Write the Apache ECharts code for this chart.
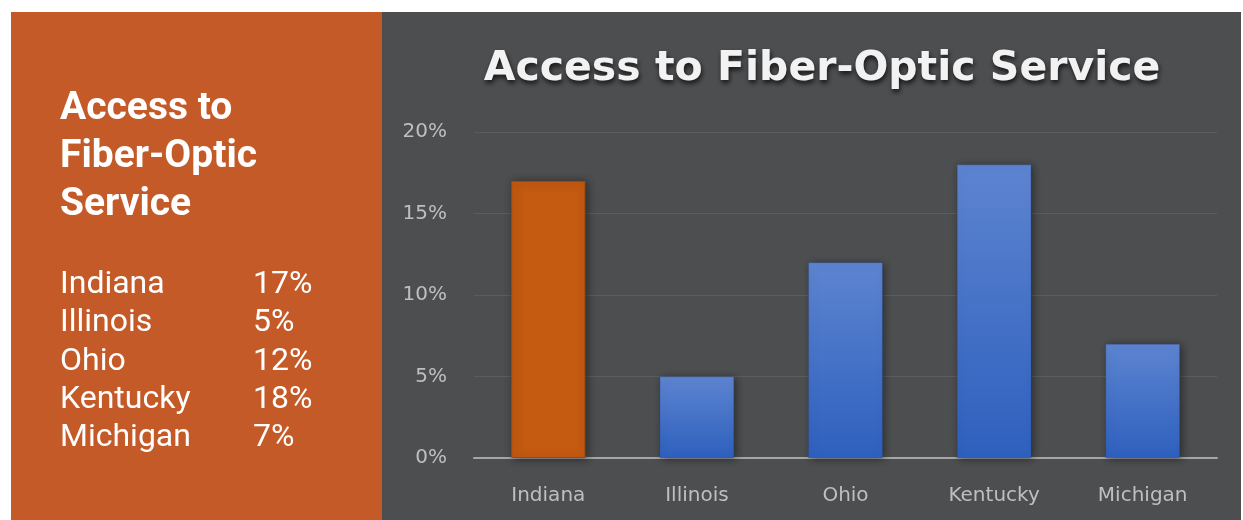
<!DOCTYPE html>
<html>
<head>
<meta charset="utf-8">
<script src="https://cdn.jsdelivr.net/npm/echarts@6/dist/echarts.min.js"></script>
<style>
html,body{margin:0;padding:0;background:#fff;}
#chart{width:1243px;height:520px;}
</style>
</head>
<body>
<div id="chart"></div>
<script>
const categories = ['Indiana', 'Illinois', 'Ohio', 'Kentucky', 'Michigan'];
const values = [17, 5, 12, 18, 7];
const yTicks = [0, 5, 10, 15, 20];
const titleText = 'Access to Fiber-Optic Service';
const sideHeading = ['Access to', 'Fiber-Optic', 'Service'];
const highlighted = 'Indiana';

const chart = echarts.init(document.getElementById('chart'), null, {renderer: 'canvas'});

const blueGrad = new echarts.graphic.LinearGradient(0, 0, 0, 1, [
  {offset: 0, color: '#5d84d0'},
  {offset: 1, color: '#2e60be'}
]);

const barData = categories.map((c, i) => ({
  value: values[i],
  itemStyle: c === highlighted
    ? {color: '#c55a11', borderColor: '#9e480f', borderWidth: 1}
    : {color: blueGrad, borderColor: 'rgba(40,70,140,0.6)', borderWidth: 0.5}
}));

const graphics = [
  {type: 'rect', z: -10, silent: true, shape: {x: 11, y: 12, width: 371, height: 508}, style: {fill: '#c45a27'}},
  {type: 'rect', z: -10, silent: true, shape: {x: 382, y: 12, width: 859, height: 508}, style: {fill: '#4d4e50'}}
];
sideHeading.forEach((line, i) => {
  graphics.push({type: 'text', x: 60, y: 109 + i * 48, style: {
    text: line, fill: '#ffffff', font: 'bold 39px Roboto', align: 'left', verticalAlign: 'middle'
  }});
});
categories.forEach((c, i) => {
  const y = 285 + i * 38.3;
  graphics.push({type: 'text', x: 60, y: y, style: {
    text: c, fill: '#ffffff', font: '32px Roboto', align: 'left', verticalAlign: 'middle'
  }});
  graphics.push({type: 'text', x: 253, y: y, style: {
    text: values[i] + '%', fill: '#ffffff', font: '32px Roboto', align: 'left', verticalAlign: 'middle'
  }});
});

chart.setOption({
  backgroundColor: '#ffffff',
  animation: false,
  title: {
    text: titleText,
    left: 817,
    top: 44,
    textAlign: 'center',
    textStyle: {
      color: '#f2f2f2',
      fontFamily: 'DejaVu Sans',
      fontWeight: 'bold',
      fontSize: 41,
      textShadowColor: 'rgba(0,0,0,0.75)',
      textShadowBlur: 5,
      textShadowOffsetX: 1,
      textShadowOffsetY: 3
    }
  },
  graphic: graphics,
  grid: {left: 474, right: 26, top: 132, bottom: 62},
  xAxis: {
    type: 'category',
    data: categories,
    axisTick: {show: false},
    axisLine: {show: true, lineStyle: {color: '#a6a6a6', width: 2}},
    axisLabel: {color: '#bfbfbf', fontFamily: 'DejaVu Sans', fontSize: 20, margin: 28}
  },
  yAxis: {
    type: 'value',
    min: yTicks[0],
    max: yTicks[yTicks.length - 1],
    interval: yTicks[1] - yTicks[0],
    axisLine: {show: false},
    axisTick: {show: false},
    splitLine: {lineStyle: {color: '#5c5d60', width: 1}},
    axisLabel: {color: '#bfbfbf', fontFamily: 'DejaVu Sans', fontSize: 20, margin: 27, formatter: '{value}%'}
  },
  series: [{
    type: 'bar',
    data: barData,
    barWidth: '50%',
    itemStyle: {shadowColor: 'rgba(0,0,0,0.45)', shadowBlur: 8, shadowOffsetX: 2, shadowOffsetY: 1}
  }]
});
</script>
</body>
</html>
